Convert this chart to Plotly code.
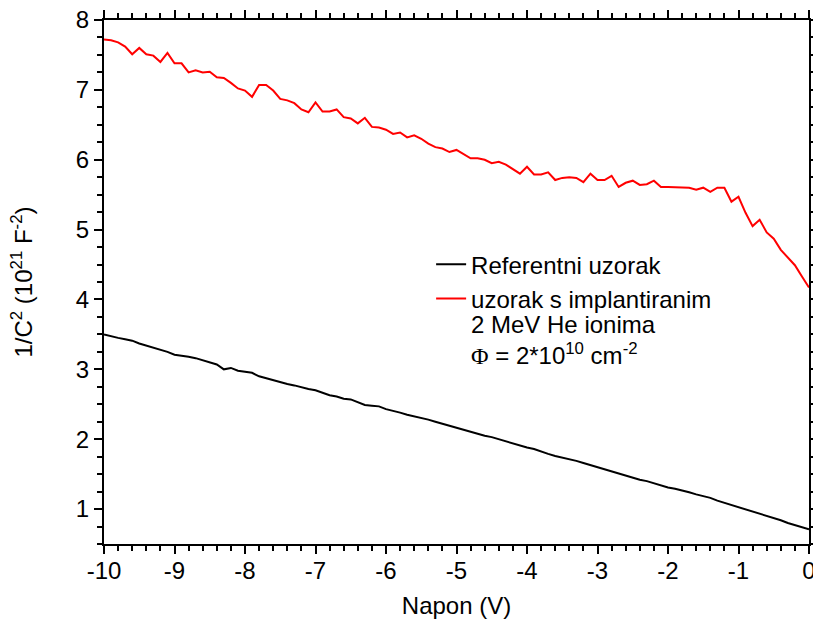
import plotly.graph_objects as go

# Voltage grid (V), 0.1 V step from -10 to 0
napon = [round(-10 + 0.1 * i, 1) for i in range(101)]

# 1/C^2 (10^21 F^-2) - reference sample
referentni = [
    3.50, 3.47, 3.45, 3.43, 3.41, 3.37, 3.34, 3.31, 3.29, 3.25,
    3.21, 3.20, 3.18, 3.16, 3.13, 3.10, 3.07, 3.00, 3.02, 2.98,
    2.96, 2.95, 2.90, 2.87, 2.85, 2.82, 2.79, 2.77, 2.74, 2.72,
    2.70, 2.66, 2.63, 2.61, 2.58, 2.57, 2.53, 2.49, 2.48, 2.47,
    2.43, 2.41, 2.38, 2.35, 2.33, 2.30, 2.28, 2.25, 2.22, 2.19,
    2.17, 2.14, 2.10, 2.08, 2.05, 2.03, 2.00, 1.97, 1.93, 1.91,
    1.88, 1.86, 1.82, 1.79, 1.76, 1.74, 1.72, 1.69, 1.66, 1.63,
    1.60, 1.57, 1.53, 1.51, 1.47, 1.45, 1.42, 1.40, 1.37, 1.33,
    1.31, 1.29, 1.27, 1.24, 1.21, 1.19, 1.16, 1.12, 1.09, 1.05,
    1.03, 1.00, 0.97, 0.93, 0.90, 0.87, 0.84, 0.80, 0.77, 0.74,
    0.71,
]

# 1/C^2 (10^21 F^-2) - sample implanted with 2 MeV He ions
implantirani = [
    7.72, 7.71, 7.68, 7.62, 7.51, 7.60, 7.51, 7.49, 7.40, 7.53,
    7.38, 7.38, 7.25, 7.28, 7.25, 7.26, 7.18, 7.17, 7.10, 7.02,
    6.99, 6.90, 7.07, 7.07, 6.99, 6.87, 6.85, 6.81, 6.72, 6.68,
    6.82, 6.69, 6.69, 6.72, 6.61, 6.59, 6.52, 6.60, 6.47, 6.46,
    6.43, 6.37, 6.39, 6.32, 6.35, 6.30, 6.23, 6.18, 6.16, 6.11,
    6.14, 6.08, 6.02, 6.02, 6.00, 5.95, 5.97, 5.93, 5.87, 5.80,
    5.90, 5.79, 5.79, 5.82, 5.71, 5.74, 5.75, 5.74, 5.68, 5.80,
    5.71, 5.71, 5.77, 5.61, 5.67, 5.70, 5.64, 5.65, 5.70, 5.61,
    5.61, 5.61, 5.61, 5.60, 5.57, 5.60, 5.54, 5.60, 5.60, 5.40,
    5.47, 5.24, 5.05, 5.14, 4.96, 4.87, 4.71, 4.60, 4.49, 4.33,
    4.17,
]

x_ticks = [-10, -9, -8, -7, -6, -5, -4, -3, -2, -1, 0]
y_ticks = [1, 2, 3, 4, 5, 6, 7, 8]

FONT = "Liberation Sans, Arial, sans-serif"
FS = 24

fig = go.Figure()
fig.add_trace(go.Scatter(
    x=napon, y=referentni, mode="lines", name="Referentni uzorak",
    line=dict(color="black", width=2), legendgroup="a",
))
fig.add_trace(go.Scatter(
    x=napon, y=implantirani, mode="lines", name="uzorak s implantiranim",
    line=dict(color="#ff0000", width=2), legendgroup="b",
))

axis_common = dict(
    showline=True, linecolor="black", linewidth=2, mirror="ticks",
    ticks="outside", ticklen=8, tickwidth=2, tickcolor="black",
    showgrid=False, zeroline=False, automargin=False,
    ticklabeloverflow="allow",
    tickfont=dict(family=FONT, size=FS, color="black"),
)

fig.update_xaxes(
    range=[-10, 0], tickvals=x_ticks, ticktext=[str(v) for v in x_ticks],
    minor=dict(dtick=0.2, tick0=0, ticks="outside", ticklen=5, tickwidth=2, tickcolor="black"),
    title=dict(text="Napon (V)", font=dict(family=FONT, size=FS, color="black"), standoff=14),
    ticklabelstandoff=-4,
    **axis_common,
)
fig.update_yaxes(
    range=[0.5, 8], tickvals=y_ticks, ticktext=[str(v) for v in y_ticks],
    minor=dict(dtick=0.25, tick0=0, ticks="outside", ticklen=5, tickwidth=2, tickcolor="black"),
    title=dict(text="1/C<sup>2</sup> (10<sup>21</sup> F<sup>-2</sup>)",
               font=dict(family=FONT, size=FS, color="black"), standoff=36),
    **axis_common,
)

fig.update_layout(
    template="none",
    width=813, height=624,
    margin=dict(l=104, r=4, t=20, b=80),
    paper_bgcolor="white", plot_bgcolor="white",
    font=dict(family=FONT, size=FS, color="black"),
    showlegend=True,
    legend=dict(
        x=0.464, y=0.576, xanchor="left", yanchor="top",
        bgcolor="rgba(0,0,0,0)", borderwidth=0,
        traceorder="grouped", tracegroupgap=0,
        font=dict(family=FONT, size=FS, color="black"),
        itemwidth=30,
    ),
    annotations=[
        dict(text="2 MeV He ionima<br><span style=\"font-family:'Liberation Serif', serif\">Φ</span>"
                  " = 2*10<sup>10</sup> cm<sup>-2</sup>",
             xref="paper", yref="paper", align="left",
             x=0.518, y=0.389, xanchor="left", yanchor="middle", showarrow=False,
             font=dict(family=FONT, size=FS, color="black")),
    ],
)

# remove the default 8px page margin so the figure fills the window exactly
fig.write_html(
    "out.html",
    config={"displayModeBar": False},
    post_script="document.body.style.margin='0';document.documentElement.style.overflow='hidden';",
)
